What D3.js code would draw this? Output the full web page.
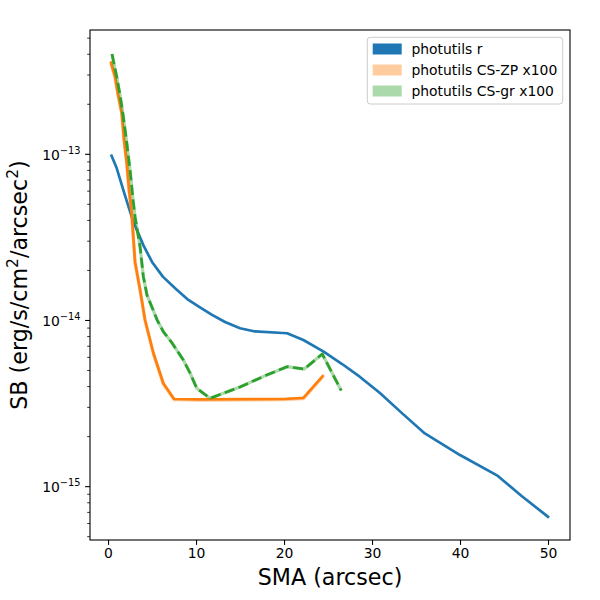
<!doctype html>
<html>
<head>
<meta charset="utf-8">
<title>SB profile</title>
<style>
  body{margin:0;background:#fff;}
  svg text{font-family:"DejaVu Sans",sans-serif;fill:#000;}
  .axis path,.axis line{stroke:#000;stroke-width:1.1px;fill:none;}
  .axis text{font-size:13.9px;}
</style>
</head>
<body>
<script src="https://d3js.org/d3.v7.min.js"></script>
<script>
// photutils r
const rSma = [0.4, 0.99, 1.74, 2.27, 2.88, 4.01, 5.0, 6.25, 7.81, 9.13, 10.45, 11.82, 13.3, 15.0, 16.7, 20.35, 22.2, 24.5, 26.6, 28.6, 30.9, 33.4, 36.0, 40.0, 44.2, 47.0, 50.0]
const rSb = [9.8e-14, 8.24e-14, 6.09e-14, 4.95e-14, 3.92e-14, 2.84e-14, 2.25e-14, 1.83e-14, 1.53e-14, 1.33e-14, 1.20e-14, 1.08e-14, 9.8e-15, 8.98e-15, 8.59e-15, 8.38e-15, 7.63e-15, 6.49e-15, 5.47e-15, 4.59e-15, 3.66e-15, 2.77e-15, 2.09e-15, 1.55e-15, 1.17e-15, 8.79e-16, 6.59e-16]

// photutils CS-ZP x100
const zpSma = [0.34, 0.8, 1.14, 1.56, 1.82, 2.13, 2.39, 2.69, 3.07, 3.64, 4.2, 5.15, 6.28, 7.5, 10.45, 16.1, 20.0, 22.2, 24.4]
const zpSb = [3.56e-13, 2.92e-13, 2.28e-13, 1.77e-13, 1.22e-13, 8.83e-14, 6.1e-14, 4.42e-14, 2.25e-14, 1.53e-14, 1.01e-14, 6.37e-15, 4.19e-15, 3.37e-15, 3.35e-15, 3.36e-15, 3.37e-15, 3.42e-15, 4.63e-15]

// photutils CS-gr x100
const grSma = [0.45, 0.99, 1.36, 1.74, 2.13, 2.5, 2.84, 3.07, 3.64, 4.01, 4.43, 4.97, 5.57, 6.28, 7.27, 8.56, 9.32, 10.08, 11.59, 15.0, 17.8, 20.35, 22.3, 24.35, 26.5]
const grSb = [4.01e-13, 2.92e-13, 2.28e-13, 1.68e-13, 1.17e-13, 8.05e-14, 5.31e-14, 4.21e-14, 2.78e-14, 1.84e-14, 1.42e-14, 1.21e-14, 1.01e-14, 8.57e-15, 7.33e-15, 5.78e-15, 4.83e-15, 3.91e-15, 3.40e-15, 3.98e-15, 4.64e-15, 5.27e-15, 5.10e-15, 6.28e-15, 3.79e-15]

const xTicks = [0, 10, 20, 30, 40, 50]
const yMajor = [-13, -14, -15]
const legendLabels = ['photutils r', 'photutils CS-ZP x100', 'photutils CS-gr x100']

const W = 600, H = 600
const plot = {left: 90, right: 570, top: 30, bottom: 540}
const blue = '#1f77b4', orange = '#ff7f0e', green = '#2ca02c'

const x = d3.scaleLinear().domain([-2.05, 52.5]).range([plot.left, plot.right])
const y = d3.scaleLog().domain([Math.pow(10, -15.321), Math.pow(10, -12.252)]).range([plot.bottom, plot.top])

const svg = d3.select('body').append('svg')
  .attr('width', W).attr('height', H)

const pairs = (xs, ys) => xs.map((v, i) => [v, ys[i]])
const line = d3.line().x(d => x(d[0])).y(d => y(d[1]))

// lines
svg.append('path').datum(pairs(rSma, rSb))
  .attr('d', line).attr('fill', 'none')
  .attr('stroke', blue).attr('stroke-width', 2.7)
  .attr('stroke-linejoin', 'round').attr('stroke-linecap', 'square')

svg.append('path').datum(pairs(zpSma, zpSb))
  .attr('d', line).attr('fill', 'none')
  .attr('stroke', orange).attr('stroke-opacity', 0.4).attr('stroke-width', 3.4)
  .attr('transform', 'translate(0,0.6)')
  .attr('stroke-linejoin', 'round')
svg.append('path').datum(pairs(zpSma, zpSb))
  .attr('d', line).attr('fill', 'none')
  .attr('stroke', orange).attr('stroke-width', 2.7)
  .attr('stroke-linejoin', 'round').attr('stroke-linecap', 'square')

svg.append('path').datum(pairs(grSma, grSb))
  .attr('d', line).attr('fill', 'none')
  .attr('stroke', green).attr('stroke-opacity', 0.4).attr('stroke-width', 3.2)
  .attr('stroke-linejoin', 'round')
svg.append('path').datum(pairs(grSma, grSb))
  .attr('d', line).attr('fill', 'none')
  .attr('stroke', green).attr('stroke-width', 2.7)
  .attr('stroke-dasharray', '10.3,4.4')
  .attr('stroke-linejoin', 'round')

// x axis
const xAxis = d3.axisBottom(x).tickValues(xTicks).tickSize(4.9).tickPadding(3.5).tickSizeOuter(0)
const gx = svg.append('g').attr('class', 'axis')
  .attr('transform', `translate(0,${plot.bottom})`).call(xAxis)
gx.select('.domain').remove()

// y axis ticks (log)
const gy = svg.append('g').attr('class', 'axis')
const minor = []
for (let e = -16; e <= -13; e++) {
  for (let k = 2; k <= 9; k++) {
    const v = k * Math.pow(10, e)
    if (y(v) <= plot.bottom && y(v) >= plot.top) minor.push(v)
  }
}
gy.selectAll('line.minor').data(minor).join('line')
  .attr('class', 'minor')
  .attr('x1', plot.left - 2.8).attr('x2', plot.left)
  .attr('y1', d => y(d)).attr('y2', d => y(d))
  .style('stroke-width', '0.8px')
gy.selectAll('line.major').data(yMajor).join('line')
  .attr('class', 'major')
  .attr('x1', plot.left - 4.9).attr('x2', plot.left)
  .attr('y1', d => y(Math.pow(10, d))).attr('y2', d => y(Math.pow(10, d)))
const ylab = gy.selectAll('text.ylab').data(yMajor).join('text')
  .attr('class', 'ylab')
  .attr('x', plot.left - 9.5)
  .attr('y', d => y(Math.pow(10, d)) + 5.5)
  .attr('text-anchor', 'end')
ylab.append('tspan').text('10')
ylab.append('tspan').attr('dy', -6.2).style('font-size', '9.8px').text(d => '\u2212' + Math.abs(d))

// frame
svg.append('rect')
  .attr('x', plot.left).attr('y', plot.top)
  .attr('width', plot.right - plot.left).attr('height', plot.bottom - plot.top)
  .attr('fill', 'none').attr('stroke', '#000').attr('stroke-width', 1.1)

// axis labels
svg.append('text')
  .attr('x', (plot.left + plot.right) / 2).attr('y', 585)
  .attr('text-anchor', 'middle').style('font-size', '22.2px')
  .text('SMA (arcsec)')

const yl = svg.append('text')
  .attr('transform', `translate(27,${(plot.top + plot.bottom) / 2}) rotate(-90)`)
  .attr('text-anchor', 'middle').style('font-size', '22.2px')
yl.append('tspan').text('SB (erg/s/cm')
yl.append('tspan').attr('dy', -9).style('font-size', '15.5px').text('2')
yl.append('tspan').attr('dy', 9).text('/arcsec')
yl.append('tspan').attr('dy', -9).style('font-size', '15.5px').text('2')
yl.append('tspan').attr('dy', 9).text(')')

// legend
const lg = svg.append('g')
lg.append('rect')
  .attr('x', 367.3).attr('y', 37.3).attr('width', 195.4).attr('height', 66.7)
  .attr('rx', 3).attr('fill', '#fff').attr('fill-opacity', 0.8)
  .attr('stroke', '#cccccc').attr('stroke-width', 1)
const legendColors = [blue, orange, green]
const legendAlpha = [1, 0.4, 0.4]
legendLabels.forEach((lab, i) => {
  const cy = 49 + i * 21
  lg.append('rect')
    .attr('x', 372.7).attr('y', cy - 5.5).attr('width', 29).attr('height', 11)
    .attr('fill', legendColors[i]).attr('fill-opacity', legendAlpha[i])
  lg.append('text')
    .attr('x', 411.5).attr('y', cy + 5)
    .style('font-size', '13.9px')
    .text(lab)
})
</script>
</body>
</html>
